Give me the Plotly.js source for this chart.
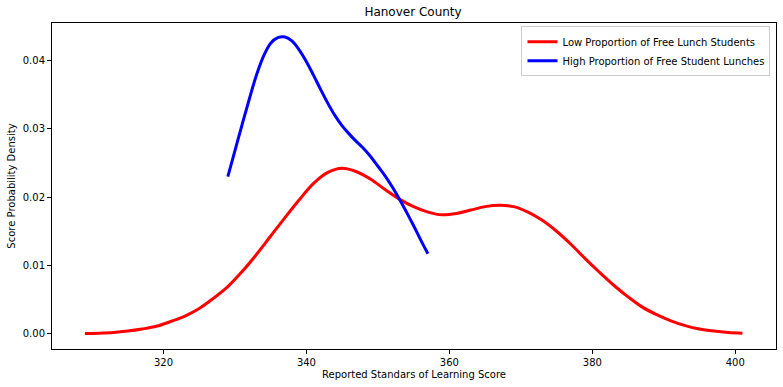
<!DOCTYPE html>
<html>
<head>
<meta charset="utf-8">
<script src="https://cdn.plot.ly/plotly-3.0.1.min.js"></script>
<style>html,body{margin:0;padding:0;background:#fff;}#chart{width:783px;height:387px;}</style>
</head>
<body>
<div id="chart"></div>
<script>
const lowX = [309,311,313,315,317,319,321,323,325,327,329,331,333,335,337,339,341,343,345,347,349,351,353,355,357,359,361,363,365,367,369,371,373,375,377,379,381,383,385,387,389,391,393,395,397,399,401];
const lowY = [0.00005,0.0001,0.0002,0.0004,0.0007,0.0011,0.0018,0.0026,0.0037,0.0052,0.0069,0.0091,0.0116,0.0143,0.0170,0.0196,0.0220,0.0236,0.0242,0.0237,0.0226,0.0211,0.0197,0.0186,0.0178,0.0174,0.0176,0.0181,0.0186,0.0188,0.0186,0.0178,0.0166,0.0150,0.0131,0.0110,0.0090,0.0071,0.0054,0.0039,0.0028,0.0019,0.0012,0.0007,0.0004,0.0002,0.0001];
const highX = [329,330,331,332,333,334,335,336,337,338,339,340,341,342,343,344,345,346,347,348,349,350,351,352,353,354,355,356,357];
const highY = [0.0230,0.0268,0.0306,0.0343,0.0378,0.0406,0.0425,0.0433,0.0434,0.0428,0.0415,0.0398,0.0378,0.0357,0.0337,0.0319,0.0304,0.0292,0.0281,0.0271,0.0259,0.0245,0.0231,0.0215,0.0197,0.0178,0.0158,0.0137,0.0117];
const seriesNames = ["Low Proportion of Free Lunch Students", "High Proportion of Free Student Lunches"];
const xTicks = [320,340,360,380,400];
const yTicks = [0.00,0.01,0.02,0.03,0.04];

const font = {family: "DejaVu Sans, sans-serif", size: 10, color: "#000"};
const traces = [
  {x: lowX, y: lowY, mode: "lines", name: seriesNames[0], line: {color: "#ff0000", width: 3, shape: "spline", smoothing: 1}},
  {x: highX, y: highY, mode: "lines", name: seriesNames[1], line: {color: "#0000ff", width: 3, shape: "spline", smoothing: 1}}
];
const layout = {
  width: 783, height: 387,
  margin: {l: 51.5, r: 6.5, t: 23, b: 37.5},
  paper_bgcolor: "#fff", plot_bgcolor: "#fff",
  font: font,
  title: {text: "Hanover County", font: {family: "DejaVu Sans, sans-serif", size: 12, color: "#000"}, x: 0.5275, xanchor: "center", y: 0.969, yanchor: "middle"},
  xaxis: {
    range: [304.4, 405.7], tickvals: xTicks, ticktext: xTicks.map(String),
    showgrid: false, zeroline: false, showline: true, mirror: true, linecolor: "#000", linewidth: 1,
    ticks: "outside", ticklen: 4, tickcolor: "#000", tickfont: font,
    title: {text: "Reported Standars of Learning Score", font: font, standoff: 3}
  },
  yaxis: {
    range: [-0.00222, 0.04545], tickvals: yTicks, ticktext: yTicks.map(v => v.toFixed(2)),
    showgrid: false, zeroline: false, showline: true, mirror: true, linecolor: "#000", linewidth: 1,
    ticks: "outside", ticklen: 4, tickcolor: "#000", tickfont: font,
    title: {text: "Score Probability Density", font: font, standoff: 5}
  },
  showlegend: true,
  legend: {x: 0.9924, xanchor: "right", y: 0.99, yanchor: "top", bgcolor: "rgba(255,255,255,0.8)", bordercolor: "#cccccc", borderwidth: 1, font: font, itemwidth: 30, tracegroupgap: 0}
};
Plotly.newPlot("chart", traces, layout, {displayModeBar: false, staticPlot: true});
</script>
</body>
</html>
